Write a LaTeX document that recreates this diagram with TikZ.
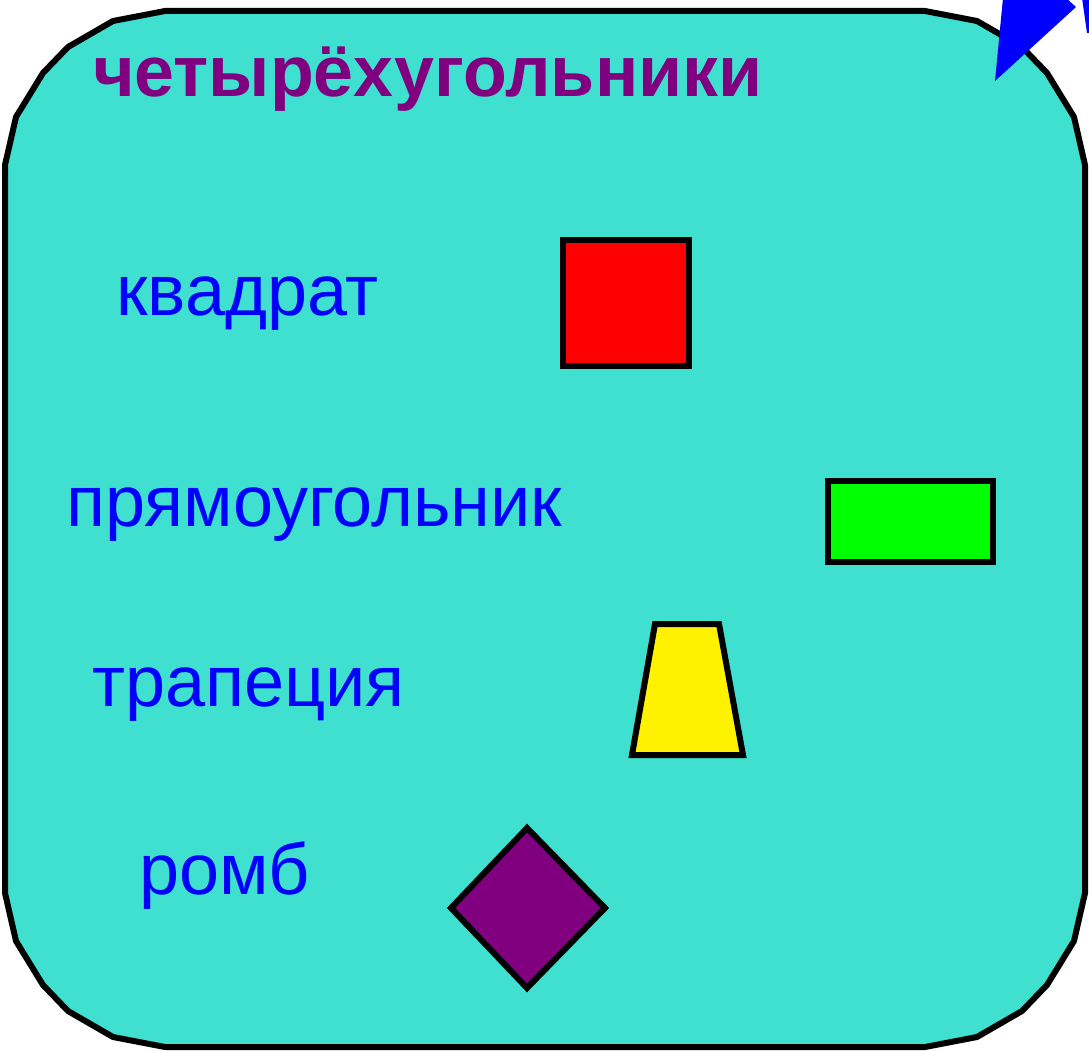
\documentclass[tikz,border=0pt]{standalone}
\usepackage{fontspec}
\setmainfont{Liberation Sans}
\definecolor{turq}{HTML}{40E0D0}
\definecolor{purp}{HTML}{800080}
\definecolor{bl}{HTML}{0000FF}
\begin{document}
\begin{tikzpicture}[x=1pt,y=-1pt,
  shapebox/.style={draw=black,line width=6pt,line join=miter},
  lbl/.style={anchor=base west,inner sep=0pt,text=bl,font=\fontsize{72}{80}\selectfont}]
\useasboundingbox (0,0) rectangle (1089,1051);
\begin{scope}
\clip (0,0) rectangle (1089,1051);
\draw[fill=turq,line width=6pt,line join=round]
  (165,11) -- (925,11) -- (977,21) -- (1022,47) -- (1047,73) -- (1074,117) -- (1085,165)
  -- (1085,893) -- (1074,941) -- (1047,985) -- (1022,1011) -- (977,1037) -- (925,1047)
  -- (165,1047) -- (113,1037) -- (68,1011) -- (43,985) -- (16,941) -- (5,893)
  -- (5,165) -- (16,117) -- (43,73) -- (68,47) -- (113,21) -- cycle;
\fill[bl] (995,81) -- (1003,-2) -- (1066,-2) -- (1076,7) -- cycle;
\fill[bl] (1082,-2) -- (1091,-2) -- (1091,33) -- (1087,33) -- cycle;
\end{scope}
\node[anchor=base west,inner sep=0pt,text=purp,font=\fontsize{71.7}{80}\selectfont\bfseries] (title) at (93,97) {четырёхугольники};
\node[lbl] (t1) at (116,315) {квадрат};
\node[lbl] (t2) at (66,526) {прямоугольник};
\node[lbl] (t3) at (92,706) {трапеция};
\node[lbl] (t4) at (139,894) {ромб};
\draw[shapebox,fill=red] (563,240) rectangle (689,366);
\draw[shapebox,fill=green] (828,481) rectangle (993,562);
\draw[shapebox,fill=yellow] (655,624) -- (719,624) -- (743,755) -- (632,755) -- cycle;
\draw[shapebox,fill=purp] (527,828) -- (605,908) -- (527,988) -- (451,908) -- cycle;
\end{tikzpicture}
\end{document}
